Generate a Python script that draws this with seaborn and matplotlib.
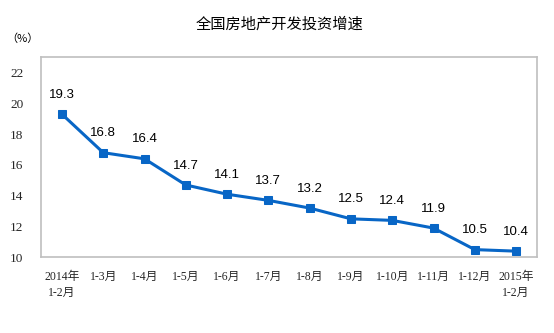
import matplotlib
matplotlib.use("Agg")
import matplotlib.pyplot as plt
import seaborn as sns
import pandas as pd

periods = ["2014年\n1-2月", "1-3月", "1-4月", "1-5月", "1-6月", "1-7月",
           "1-8月", "1-9月", "1-10月", "1-11月", "1-12月", "2015年\n1-2月"]
growth = [19.3, 16.8, 16.4, 14.7, 14.1, 13.7, 13.2, 12.5, 12.4, 11.9, 10.5, 10.4]
y_ticks = [10, 12, 14, 16, 18, 20, 22]

sns.set_style("white")
plt.rcParams["font.family"] = ["Liberation Sans", "Noto Sans CJK SC"]
serif_cjk = ["Liberation Serif", "Noto Sans CJK SC"]

df = pd.DataFrame({"period": periods, "growth": growth})
df["pos"] = range(len(df))

fig = plt.figure(figsize=(5.54, 3.33), dpi=100)
ax = fig.add_axes([0.0746, 0.2273, 0.8942, 0.6007])

line_color = "#0866C6"
sns.lineplot(data=df, x="pos", y="growth", ax=ax, color=line_color,
             linewidth=2.2, marker="s", markersize=6,
             markeredgecolor=line_color, markerfacecolor=line_color)

for x, v in zip(df["pos"], df["growth"]):
    ax.annotate(f"{v:.1f}", (x, v), xytext=(0, 14), textcoords="offset points",
                ha="center", va="center", fontsize=9.5, color="black")

ax.set_xlim(-0.5, len(periods) - 0.5)
ax.set_ylim(10, 23)
ax.set_yticks(y_ticks)
ax.set_yticklabels([str(t) for t in y_ticks], family=serif_cjk, fontsize=9.5)
ax.set_xticks(list(df["pos"]))
ax.set_xticklabels(periods, family=serif_cjk, fontsize=8.5, linespacing=1.4)
ax.set_xticks([p + 0.5 for p in range(len(periods) - 1)], minor=True)
ax.tick_params(axis="x", which="major", length=0, pad=10)
ax.tick_params(axis="x", which="minor", direction="in", length=4,
               color="#BFBFBF", width=1)
ax.tick_params(axis="y", which="major", direction="in", length=4,
               color="#BFBFBF", width=1, pad=13)
ax.set_xlabel("")
ax.set_ylabel("")

for side in ["left", "right", "top", "bottom"]:
    ax.spines[side].set_visible(True)
    ax.spines[side].set_color("#BFBFBF")
    ax.spines[side].set_linewidth(1.2)

fig.text(0.505, 0.928, "全国房地产开发投资增速", ha="center", va="center",
         fontsize=11, color="black")
fig.text(0.041, 0.883, "（%）", ha="center", va="center", fontsize=8,
         family=["Noto Sans CJK SC", "DejaVu Sans"], color="black")

fig.savefig("out.png", dpi=100)
